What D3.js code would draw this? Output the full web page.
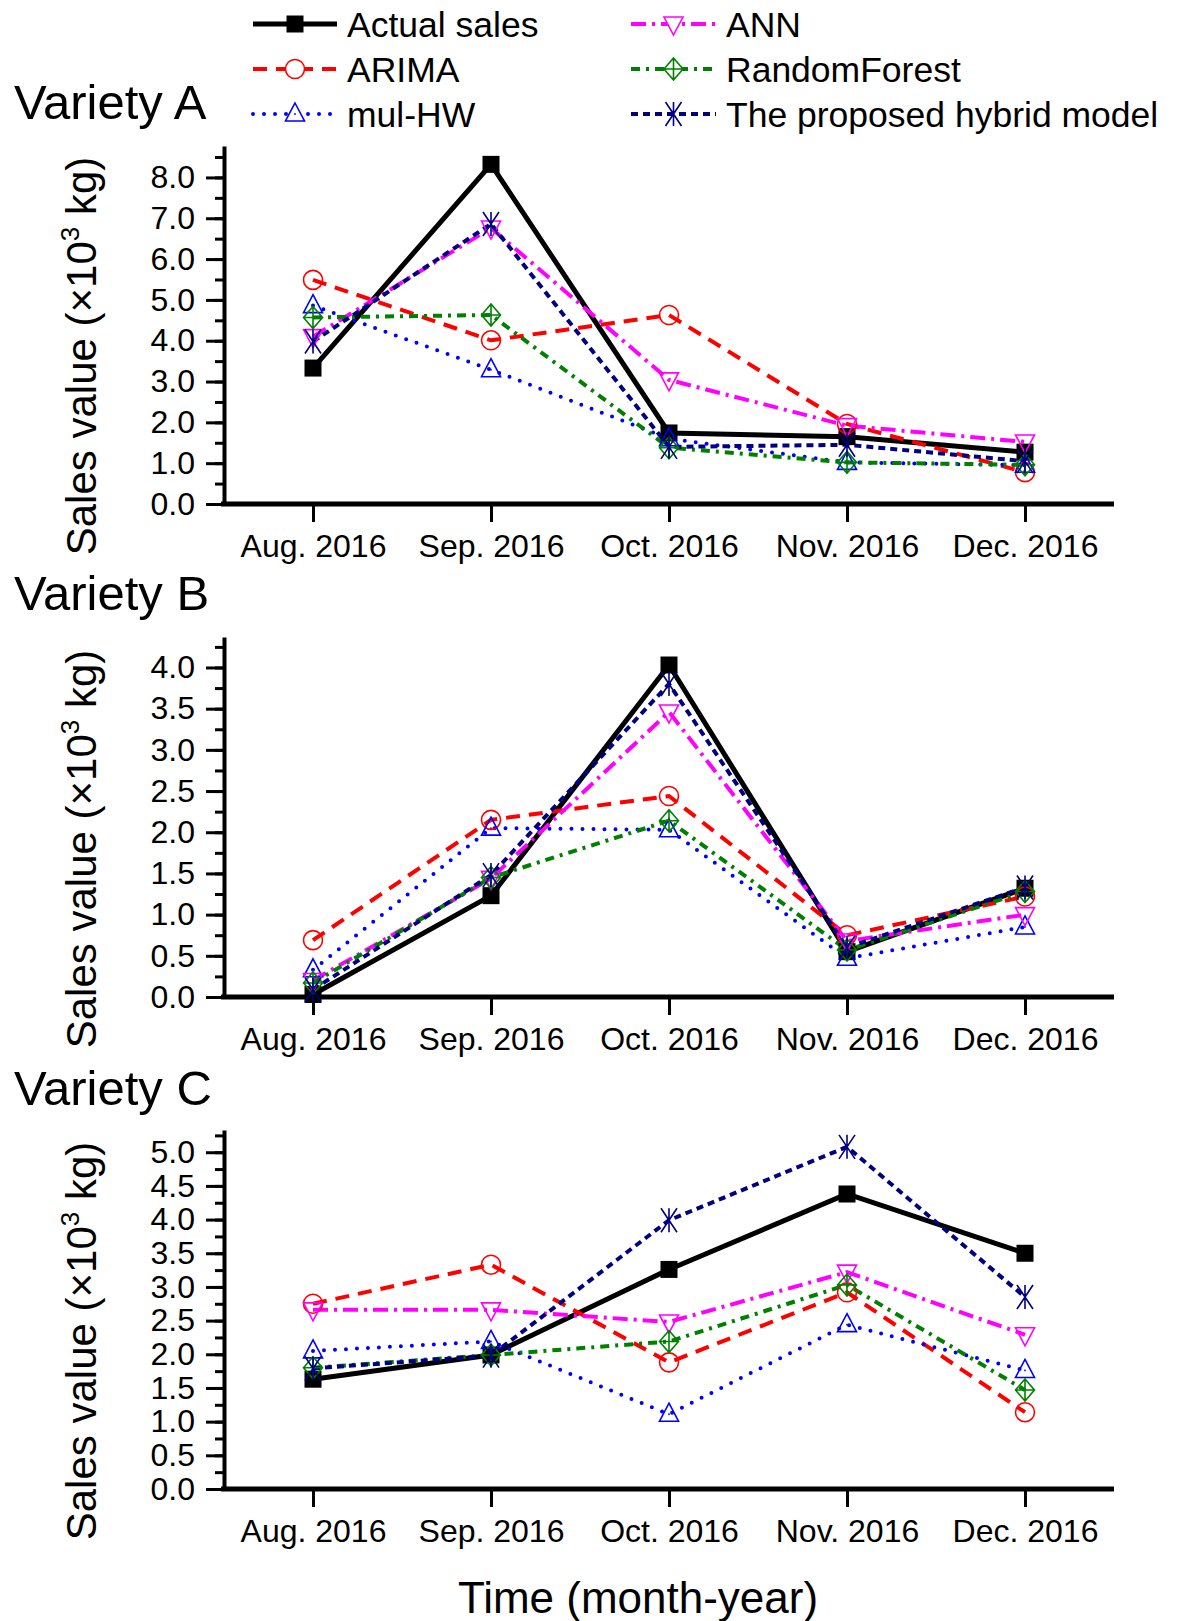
<!DOCTYPE html>
<html>
<head>
<meta charset="utf-8">
<script src="https://cdn.jsdelivr.net/npm/d3@7"></script>
<style>
  body { margin: 0; background: #fff; }
  text { font-family: "Liberation Sans", Arial, sans-serif; fill: #000; }
</style>
</head>
<body>
<script>
// categories
var months = ["Aug. 2016", "Sep. 2016", "Oct. 2016", "Nov. 2016", "Dec. 2016"];
var modelNames = ["Actual sales", "ARIMA", "mul-HW", "ANN", "RandomForest", "The proposed hybrid model"];

// Variety A (x10^3 kg)
var actualA = [3.33, 8.32, 1.74, 1.65, 1.27];
var arimaA  = [5.49, 4.01, 4.63, 1.96, 0.78];
var hwA     = [4.86, 3.29, 1.60, 1.02, 0.95];
var annA    = [4.10, 6.76, 3.04, 1.92, 1.52];
var rfA     = [4.57, 4.63, 1.38, 1.02, 0.96];
var hybA    = [3.98, 6.86, 1.40, 1.45, 1.05];

// Variety B
var actualB = [0.03, 1.23, 4.03, 0.55, 1.32];
var arimaB  = [0.69, 2.15, 2.44, 0.75, 1.22];
var hwB     = [0.33, 2.05, 2.03, 0.47, 0.85];
var annB    = [0.20, 1.44, 3.46, 0.68, 1.00];
var rfB     = [0.17, 1.45, 2.14, 0.57, 1.28];
var hybB    = [0.09, 1.48, 3.80, 0.60, 1.33];

// Variety C
var actualC = [1.63, 1.99, 3.26, 4.38, 3.50];
var arimaC  = [2.75, 3.33, 1.88, 2.92, 1.14];
var hwC     = [2.05, 2.19, 1.11, 2.44, 1.76];
var annC    = [2.66, 2.66, 2.48, 3.22, 2.29];
var rfC     = [1.80, 1.99, 2.19, 3.03, 1.47];
var hybC    = [1.79, 1.98, 3.99, 5.08, 2.85];

var W = 1181, H = 1621;
var axisLeftX = 224, axisRightX = 1114;

var svg = d3.select("body").append("svg").attr("width", W).attr("height", H);
svg.append("rect").attr("width", W).attr("height", H).attr("fill", "#fff");

// marker shapes
var marks = {
  square:  "M-8.5,-8.5H8.5V8.5H-8.5Z",
  circle:  "M9.5,0A9.5,9.5 0 1,1 -9.5,0A9.5,9.5 0 1,1 9.5,0Z",
  triUp:   "M0,-11L9.5,7L-9.5,7Z",
  triDown: "M0,11L9.5,-7L-9.5,-7Z",
  diamond: "M0,-11L9.5,0L0,11L-9.5,0ZM0,-11V11M-9.5,0H9.5",
  xmark:   "M-8,-12L8,12M8,-12L-8,12M0,-12V12"
};

var styles = [
  {color: "#000000", width: 5, dash: null,          cap: "butt",  mark: "square",  fill: "#000"},
  {color: "#ff0000", width: 4, dash: "14,9",        cap: "butt",  mark: "circle",  fill: "none"},
  {color: "#0000ff", width: 4, dash: "0,11",        cap: "round", mark: "triUp",   fill: "none"},
  {color: "#ff00ff", width: 4, dash: "15,6,3,6",    cap: "butt",  mark: "triDown", fill: "none"},
  {color: "#008000", width: 4, dash: "9,6,3,6",     cap: "butt",  mark: "diamond", fill: "none"},
  {color: "#000080", width: 4, dash: "7,5",         cap: "butt",  mark: "xmark",   fill: "none"}
];

var panels = [
  {title: "Variety A", series: [actualA, arimaA, hwA, annA, rfA, hybA], bottom: 504, top: 146, max: 8.77, major: 1, minor: 0.5, titleY: 119},
  {title: "Variety B", series: [actualB, arimaB, hwB, annB, rfB, hybB], bottom: 997, top: 637, max: 4.37, major: 0.5, minor: 0.25, titleY: 610},
  {title: "Variety C", series: [actualC, arimaC, hwC, annC, rfC, hybC], bottom: 1489, top: 1130, max: 5.33, major: 0.5, minor: 0.25, titleY: 1105}
];

var x = d3.scalePoint().domain(months).range([axisLeftX, axisRightX]).padding(0.5);

function drawMark(sel, st, px, py, fill) {
  sel.append("path")
    .attr("d", marks[st.mark])
    .attr("transform", "translate(" + px + "," + py + ")")
    .attr("fill", fill)
    .attr("stroke", st.color)
    .attr("stroke-width", st.mark == "square" ? 0 : 1.6);
  if (st.mark == "triUp") {
    sel.append("circle").attr("cx", px).attr("cy", py).attr("r", 0.9).attr("fill", st.color);
  }
}

panels.forEach(function(p) {
  var y = d3.scaleLinear().domain([0, p.max]).range([p.bottom, p.top]);
  var g = svg.append("g");

  // minor y ticks
  var minor = g.append("g").attr("transform", "translate(" + axisLeftX + ",0)")
    .call(d3.axisLeft(y).tickValues(d3.range(0, p.max, p.minor)).tickSize(9).tickFormat("").tickSizeOuter(0));
  minor.select(".domain").remove();
  minor.selectAll("line").attr("stroke-width", 3);

  // major y ticks
  var ya = g.append("g").attr("transform", "translate(" + axisLeftX + ",0)")
    .call(d3.axisLeft(y).tickValues(d3.range(0, p.max, p.major)).tickSize(18).tickPadding(11)
      .tickFormat(d3.format(".1f")).tickSizeOuter(0));
  ya.select(".domain").attr("stroke-width", 4);
  ya.selectAll("line").attr("stroke-width", 3);
  ya.selectAll("text").attr("font-size", "32px").attr("font-family", "Liberation Sans, Arial, sans-serif");

  // x axis
  var xa = g.append("g").attr("transform", "translate(0," + p.bottom + ")")
    .call(d3.axisBottom(x).tickSize(18).tickSizeOuter(0));
  xa.select(".domain").attr("stroke-width", 5).attr("d", "M" + (axisLeftX - 3) + ",0H" + axisRightX);
  xa.selectAll("line").attr("stroke-width", 3);
  xa.selectAll("text").attr("font-size", "32px").attr("font-family", "Liberation Sans, Arial, sans-serif")
    .attr("y", 53).attr("dy", null);

  // title
  g.append("text").attr("x", 14).attr("y", p.titleY).attr("font-size", "49px").text(p.title);

  // y label
  var yl = g.append("text")
    .attr("transform", "translate(96," + (p.bottom - 148) + ") rotate(-90)")
    .attr("text-anchor", "middle")
    .attr("font-size", "42px");
  yl.append("tspan").text("Sales value (\u00d710");
  yl.append("tspan").attr("dy", -17).attr("font-size", "26px").text("3");
  yl.append("tspan").attr("dy", 17).text(" kg)");

  // series
  var line = d3.line()
    .x(function(d, i) { return x(months[i]); })
    .y(function(d) { return y(d); });

  p.series.forEach(function(vals, k) {
    var st = styles[k];
    g.append("path")
      .datum(vals)
      .attr("d", line)
      .attr("fill", "none")
      .attr("stroke", st.color)
      .attr("stroke-width", st.width)
      .attr("stroke-dasharray", st.dash)
      .attr("stroke-linecap", st.cap)
      .attr("stroke-linejoin", "miter");
  });
  p.series.forEach(function(vals, k) {
    var st = styles[k];
    var mg = g.append("g");
    vals.forEach(function(v, i) {
      drawMark(mg, st, x(months[i]), y(v), st.fill);
    });
  });
});

// x title
svg.append("text").attr("x", 638).attr("y", 1613).attr("text-anchor", "middle")
  .attr("font-size", "44px").text("Time (month-year)");

// legend
var legend = svg.append("g");
modelNames.forEach(function(name, k) {
  var st = styles[k];
  var col = k < 3 ? 0 : 1;
  var row = k % 3;
  var x0 = col == 0 ? 253 : 631;
  var x1 = col == 0 ? 337 : 716;
  var ly = 24 + row * 45;
  legend.append("line")
    .attr("x1", x0).attr("x2", x1).attr("y1", ly).attr("y2", ly)
    .attr("stroke", st.color)
    .attr("stroke-width", st.width)
    .attr("stroke-dasharray", st.dash)
    .attr("stroke-linecap", st.cap);
  drawMark(legend, st, (x0 + x1) / 2, ly, st.mark == "square" ? "#000" : "#fff");
  legend.append("text").attr("x", x1 + 10).attr("y", ly + 12.5)
    .attr("font-size", "35.5px").text(name);
});
</script>
</body>
</html>
